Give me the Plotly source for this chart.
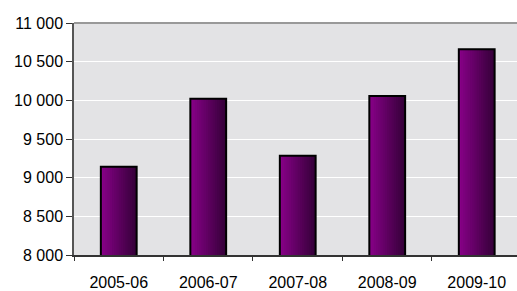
import plotly.graph_objects as go

seasons = ["2005-06", "2006-07", "2007-08", "2008-09", "2009-10"]
values = [9140, 10020, 9285, 10055, 10660]

fig = go.Figure()

N = 16
bar_w = 0.40
c0 = (0x86, 0x00, 0x86)
c1 = (0x36, 0x00, 0x3a)
for i in range(N):
    t = i / (N - 1)
    col = "rgb(%d,%d,%d)" % tuple(round(a + (b - a) * t) for a, b in zip(c0, c1))
    start = -bar_w / 2 + i * bar_w / N
    fig.add_trace(go.Bar(
        x=seasons, y=values,
        width=bar_w / 2 - start, offset=start,
        marker=dict(color=col, line=dict(width=0)),
        showlegend=False, hoverinfo="skip",
    ))
fig.add_trace(go.Bar(
    x=seasons, y=values, width=bar_w, offset=-bar_w / 2,
    marker=dict(color="rgba(0,0,0,0)", line=dict(color="black", width=2)),
    showlegend=False,
))

fig.update_layout(
    width=517, height=291,
    margin=dict(l=74, r=0, t=23, b=36),
    barmode="overlay",
    paper_bgcolor="white",
    plot_bgcolor="#e3e3e5",
    separators=". ",
    font=dict(family="Liberation Sans, Arial, sans-serif", size=16, color="black"),
    xaxis=dict(
        type="category", range=[-0.5, 4.45], automargin=False,
        showline=True, linecolor="#333", linewidth=1.5,
        ticks="outside", tickson="boundaries", ticklen=4, tickcolor="#333",
        ticklabelstandoff=12, showgrid=False,
    ),
    yaxis=dict(
        range=[8000, 11000], dtick=500, tickformat=",d", automargin=False,
        showline=True, linecolor="#555", linewidth=1.5,
        ticks="outside", ticklen=6, tickcolor="#333",
        gridcolor="white", gridwidth=1, zeroline=False,
    ),
    shapes=[dict(type="line", xref="paper", yref="paper", x0=0, x1=1, y0=1, y1=1,
                 line=dict(color="#999", width=2))],
)

fig.write_html("out.html", config={"displayModeBar": False},
               post_script="document.body.style.margin='0px';")
